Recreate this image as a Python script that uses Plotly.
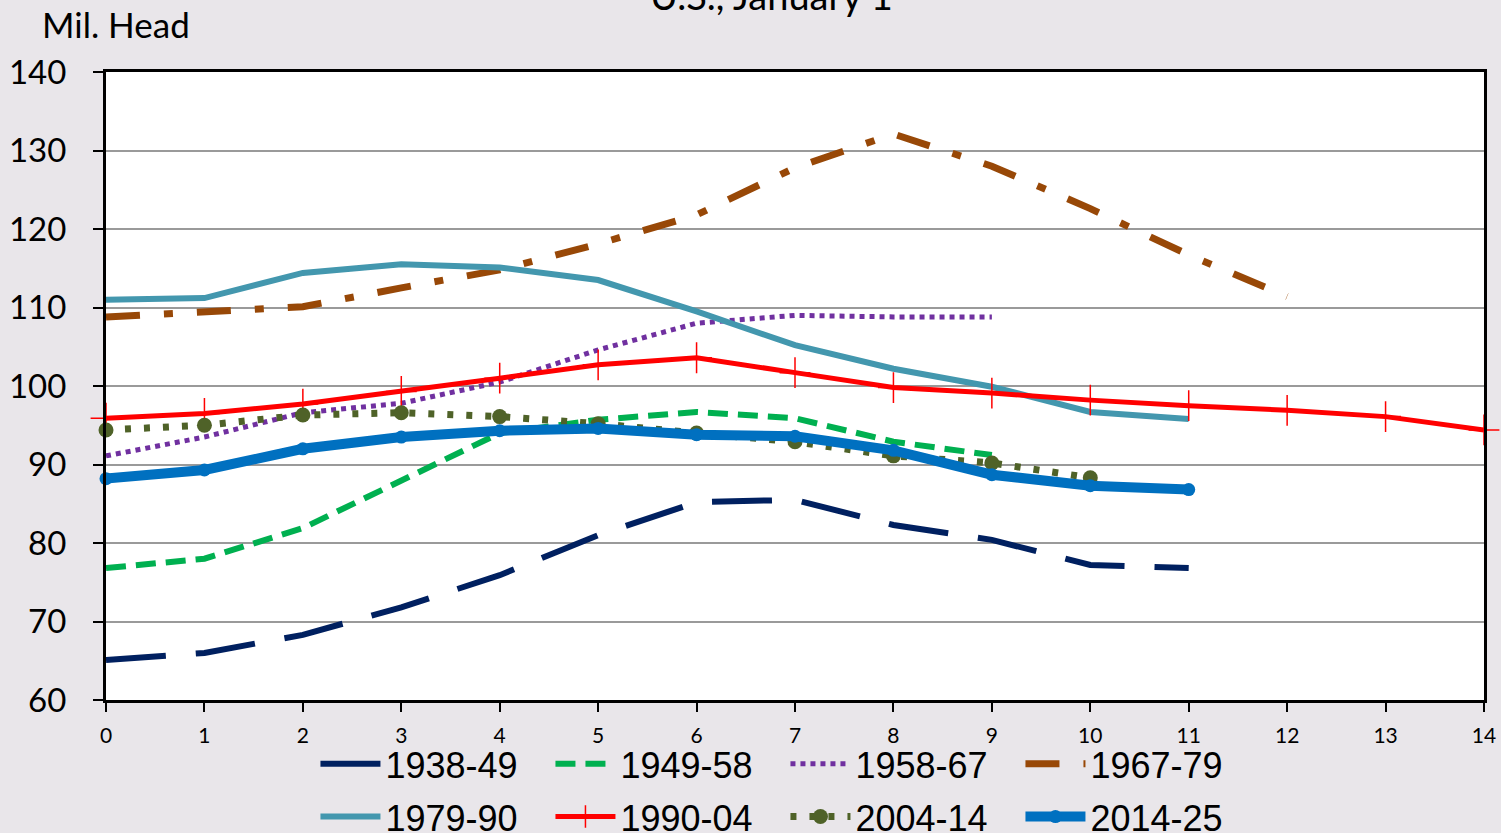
import plotly.graph_objects as go

# ---- data ----
years = list(range(0, 15))
labels = ["1938-49", "1949-58", "1958-67", "1967-79", "1979-90", "1990-04", "2004-14", "2014-25"]
s1938 = [65.1, 66.0, 68.3, 71.8, 75.9, 81.0, 85.2, 85.5, 82.3, 80.4, 77.2, 76.8]
s1949 = [76.8, 78.0, 81.9, 88.0, 94.0, 95.7, 96.7, 95.9, 92.9, 91.2]
s1958 = [91.1, 93.5, 96.6, 97.8, 100.5, 104.6, 108.0, 109.0, 108.8, 108.8]
s1967 = [108.8, 109.4, 110.1, 112.5, 114.8, 118.1, 121.8, 127.8, 132.1, 128.0, 122.6, 116.7, 111.4]
s1979 = [111.0, 111.2, 114.4, 115.5, 115.1, 113.5, 109.5, 105.2, 102.2, 99.9, 96.7, 95.8]
s1990 = [95.9, 96.5, 97.7, 99.3, 101.0, 102.7, 103.6, 101.7, 99.8, 99.1, 98.2, 97.5, 96.9, 96.1, 94.4]
s2004 = [94.4, 95.0, 96.3, 96.6, 96.1, 95.2, 94.0, 92.9, 91.1, 90.2, 88.3]
s2014 = [88.2, 89.3, 92.0, 93.5, 94.3, 94.6, 93.8, 93.6, 91.8, 88.7, 87.3, 86.8]
series = [s1938, s1949, s1958, s1967, s1979, s1990, s2004, s2014]

xticks = list(range(0, 15))
yticks = [60, 70, 80, 90, 100, 110, 120, 130, 140]

styles = [
    dict(line=dict(color="#002060", width=6, dash="60px,30px"), mode="lines"),
    dict(line=dict(color="#00b050", width=6, dash="20px,10px"), mode="lines"),
    dict(line=dict(color="#7030a0", width=5, dash="5px,5px"), mode="lines"),
    dict(line=dict(color="#984807", width=7, dash="34px,24px,9px,24px"), mode="lines"),
    dict(line=dict(color="#4397ae", width=6), mode="lines"),
    dict(line=dict(color="#ff0000", width=5), mode="lines+markers",
         marker=dict(symbol="cross-thin", size=22, line=dict(color="#ff0000", width=1.5))),
    dict(line=dict(color="#4f6228", width=7, dash="6px,13px"), mode="lines+markers",
         marker=dict(symbol="circle", size=15, color="#4f6228")),
    dict(line=dict(color="#0070c0", width=10), mode="lines+markers",
         marker=dict(symbol="circle", size=13, color="#0070c0")),
]

fig = go.Figure()
for i, (lab, ys, st) in enumerate(zip(labels, series, styles)):
    fig.add_trace(go.Scatter(x=years[:len(ys)], y=ys, name=lab, cliponaxis=False,
                             legend="legend" if i < 4 else "legend2", **st))

legend_common = dict(orientation="h", x=0.152, xanchor="left", yanchor="top",
                     entrywidth=160, entrywidthmode="pixels", itemwidth=60,
                     font=dict(size=36, family="Liberation Sans Narrow, Liberation Sans, sans-serif"),
                     bgcolor="rgba(0,0,0,0)", traceorder="normal")

fig.update_layout(
    width=1501, height=833,
    margin=dict(l=106, r=17, t=72, b=133, autoexpand=False),
    paper_bgcolor="#e9e6ea",
    plot_bgcolor="white",
    font=dict(family="Lato, Open Sans, sans-serif", color="black"),
    showlegend=True,
    legend=dict(y=-0.054, **legend_common),
    legend2=dict(y=-0.138, **legend_common),
    annotations=[
        dict(text="Mil. Head", xref="paper", yref="paper", x=-0.0479, y=1.0764,
             xanchor="left", yanchor="middle", showarrow=False,
             font=dict(size=35, family="Lato, Open Sans, sans-serif")),
        dict(text="U.S., January 1", xref="paper", yref="paper", x=0.483, y=1.1226,
             xanchor="center", yanchor="middle", showarrow=False,
             font=dict(size=38, family="Lato, Open Sans, sans-serif")),
    ],
)
fig.update_xaxes(range=[0, 14], tickmode="array", tickvals=xticks, ticktext=[str(t) for t in xticks],
                 showgrid=False, zeroline=False, showline=True, linecolor="black", linewidth=3,
                 mirror=True, ticks="outside", ticklen=9, tickwidth=1.5, tickcolor="black",
                 tickfont=dict(size=21), ticklabelstandoff=6)
fig.update_yaxes(range=[60, 140], tickmode="array", tickvals=yticks, ticktext=[str(t) for t in yticks],
                 showgrid=True, gridcolor="#9a9a9a", gridwidth=2, zeroline=False,
                 showline=True, linecolor="black", linewidth=3, mirror=True,
                 ticks="outside", ticklen=10, tickwidth=1.5, tickcolor="black",
                 tickfont=dict(size=33), ticklabelstandoff=20)

fig.write_html("out.html", config={"displayModeBar": False},
               post_script="document.body.style.margin='0';document.body.style.background='#e9e6ea';")
